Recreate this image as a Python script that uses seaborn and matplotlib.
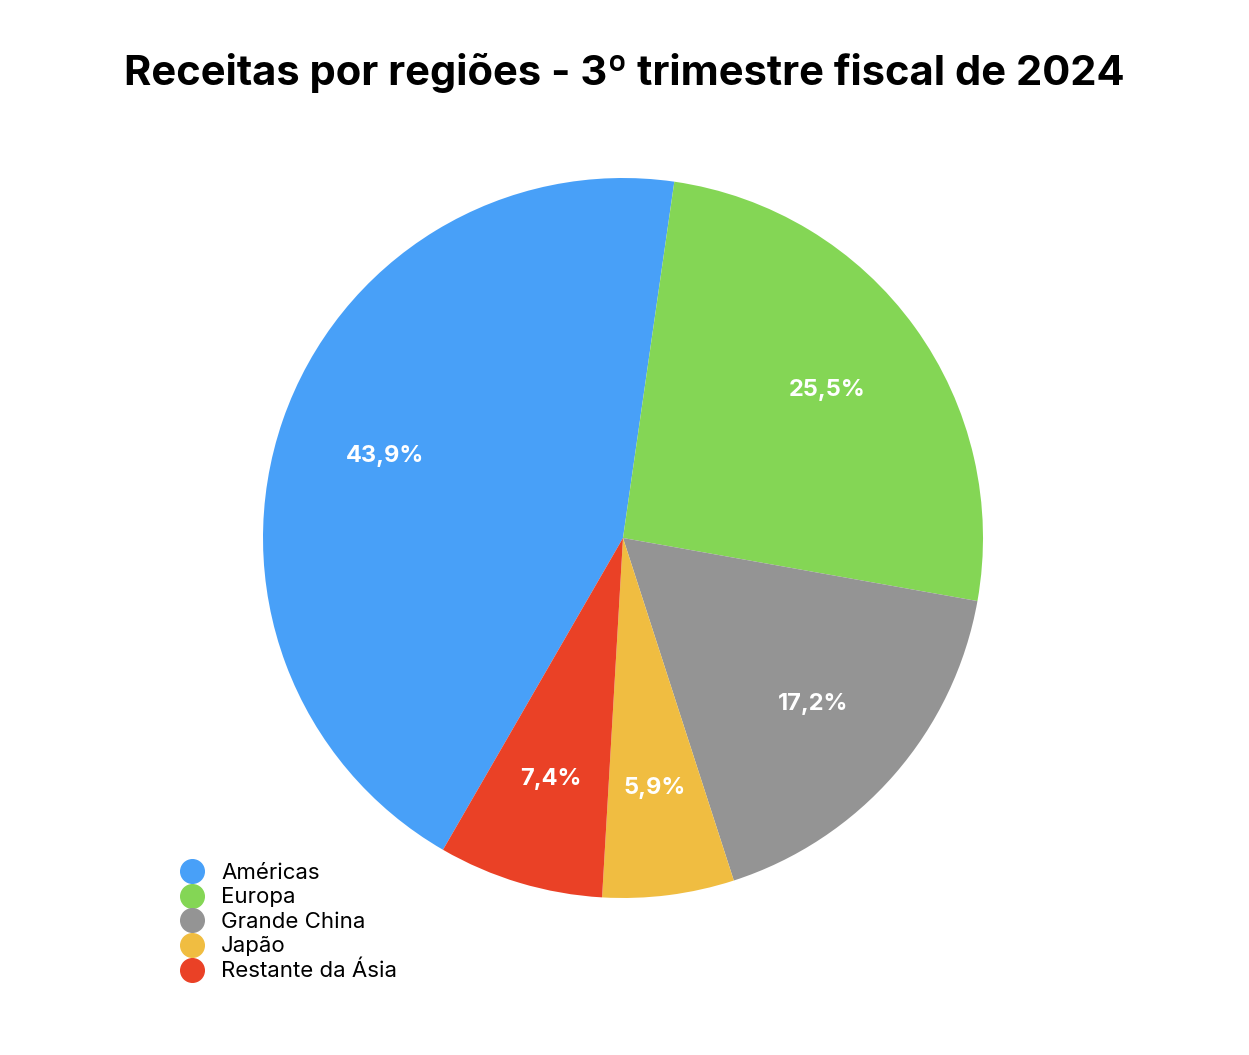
import matplotlib.pyplot as plt
import seaborn as sns
from matplotlib.lines import Line2D

sns.set_theme(style="white")

regioes = ["Américas", "Europa", "Grande China", "Japão", "Restante da Ásia"]
valores = [43.9, 25.5, 17.2, 5.9, 7.4]
cores = ["#48a0f8", "#84d655", "#949494", "#f0bd41", "#ea4126"]

fig = plt.figure(figsize=(12.49, 10.55), dpi=100)
ax = fig.add_axes([(623 - 360) / 1249, 1 - (538 + 360) / 1055, 720 / 1249, 720 / 1055])

wedges, textos, autotextos = ax.pie(
    valores, colors=cores, startangle=240, counterclock=False,
    autopct=lambda p: f"{p:.1f}%".replace(".", ","), pctdistance=0.7,
    wedgeprops=dict(linewidth=0),
    textprops=dict(color="white", fontsize=17, fontweight="bold", family="Inter"),
)
ax.set_xlim(-1, 1)
ax.set_ylim(-1, 1)
ax.set_aspect("equal")

fig.suptitle("Receitas por regiões - 3º trimestre fiscal de 2024", x=0.5, y=0.95,
             fontsize=30, fontweight="bold", family="Inter", color="black")

handles = [Line2D([], [], marker="o", linestyle="", markersize=17, color=c) for c in cores]
fig.legend(handles, regioes, loc="upper left", bbox_to_anchor=(150 / 1249, 1 - 843 / 1055),
           frameon=False, handletextpad=0.3, labelspacing=0.2, labelcolor="black",
           prop=dict(family="Inter", size=16))

fig.savefig("out.png", dpi=100)
